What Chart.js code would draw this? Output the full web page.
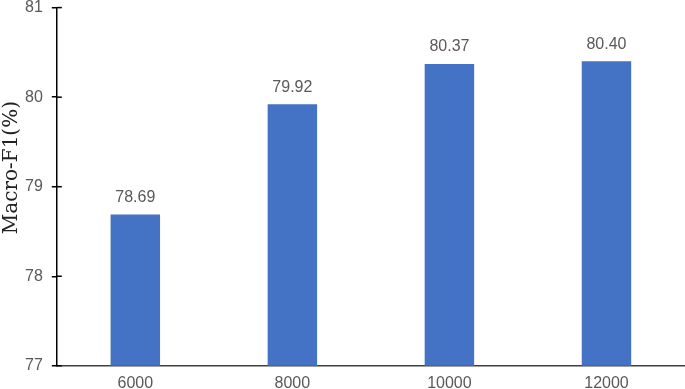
<!DOCTYPE html>
<html>
<head>
<meta charset="utf-8">
<script src="https://cdn.jsdelivr.net/npm/chart.js@4"></script>
<style>
  html, body { margin: 0; padding: 0; background: #fff; }
  #wrap { width: 685px; height: 389px; overflow: hidden; }
  #chart { display: block; margin-top: -11px; }
</style>
</head>
<body>
<div id="wrap"><canvas id="chart" width="685" height="412"></canvas></div>
<script>
// chart data
const categories = ['6000', '8000', '10000', '12000'];
const macroF1 = [78.69, 79.92, 80.37, 80.40];
const yTicks = [77, 78, 79, 80, 81];

// value labels above each bar
const barLabels = {
  id: 'barLabels',
  afterDatasetsDraw(chart) {
    const ctx = chart.ctx;
    const meta = chart.getDatasetMeta(0);
    ctx.save();
    ctx.fillStyle = '#595959';
    ctx.font = '16px "Liberation Sans", Arial, sans-serif';
    ctx.textAlign = 'center';
    ctx.textBaseline = 'bottom';
    meta.data.forEach((bar, i) => {
      ctx.fillText(macroF1[i].toFixed(2), bar.x, bar.y - 9);
    });
    ctx.restore();
  }
};

// y tick marks cross the axis line (inner half)
const innerTicks = {
  id: 'innerTicks',
  afterDraw(chart) {
    const ctx = chart.ctx;
    const y = chart.scales.y;
    ctx.save();
    ctx.strokeStyle = '#000';
    ctx.lineWidth = 1.5;
    y.ticks.forEach(t => {
      const py = y.getPixelForValue(t.value);
      ctx.beginPath();
      ctx.moveTo(y.right, py);
      ctx.lineTo(y.right + 5, py);
      ctx.stroke();
    });
    ctx.restore();
  }
};

new Chart(document.getElementById('chart'), {
  type: 'bar',
  data: {
    labels: categories,
    datasets: [{
      label: 'Macro-F1',
      data: macroF1,
      backgroundColor: '#4472C4',
      categoryPercentage: 1,
      barPercentage: 0.315
    }]
  },
  options: {
    responsive: false,
    animation: false,
    layout: { padding: 0 },
    plugins: {
      legend: { display: false },
      tooltip: { enabled: false }
    },
    scales: {
      x: {
        grid: { display: false, drawTicks: false },
        border: { color: '#404040', width: 1.5 },
        ticks: {
          color: '#595959',
          padding: 8,
          font: { family: '"Liberation Sans", Arial, sans-serif', size: 16 }
        }
      },
      y: {
        min: yTicks[0],
        max: yTicks[yTicks.length - 1],
        afterBuildTicks(scale) {
          scale.ticks = yTicks.map(v => ({ value: v }));
        },
        grid: {
          drawOnChartArea: false,
          drawTicks: true,
          tickLength: 5,
          color: '#000',
          lineWidth: 1.5
        },
        border: { color: '#000', width: 1.5 },
        ticks: {
          color: '#595959',
          padding: 9,
          font: { family: '"Liberation Sans", Arial, sans-serif', size: 16 }
        },
        title: {
          display: true,
          text: '      Macro-F1(%)',
          color: '#222',
          padding: { top: 0, bottom: -8 },
          font: { family: '"DejaVu Serif", "Liberation Serif", serif', size: 20 }
        }
      }
    }
  },
  plugins: [barLabels, innerTicks]
});
</script>
</body>
</html>
